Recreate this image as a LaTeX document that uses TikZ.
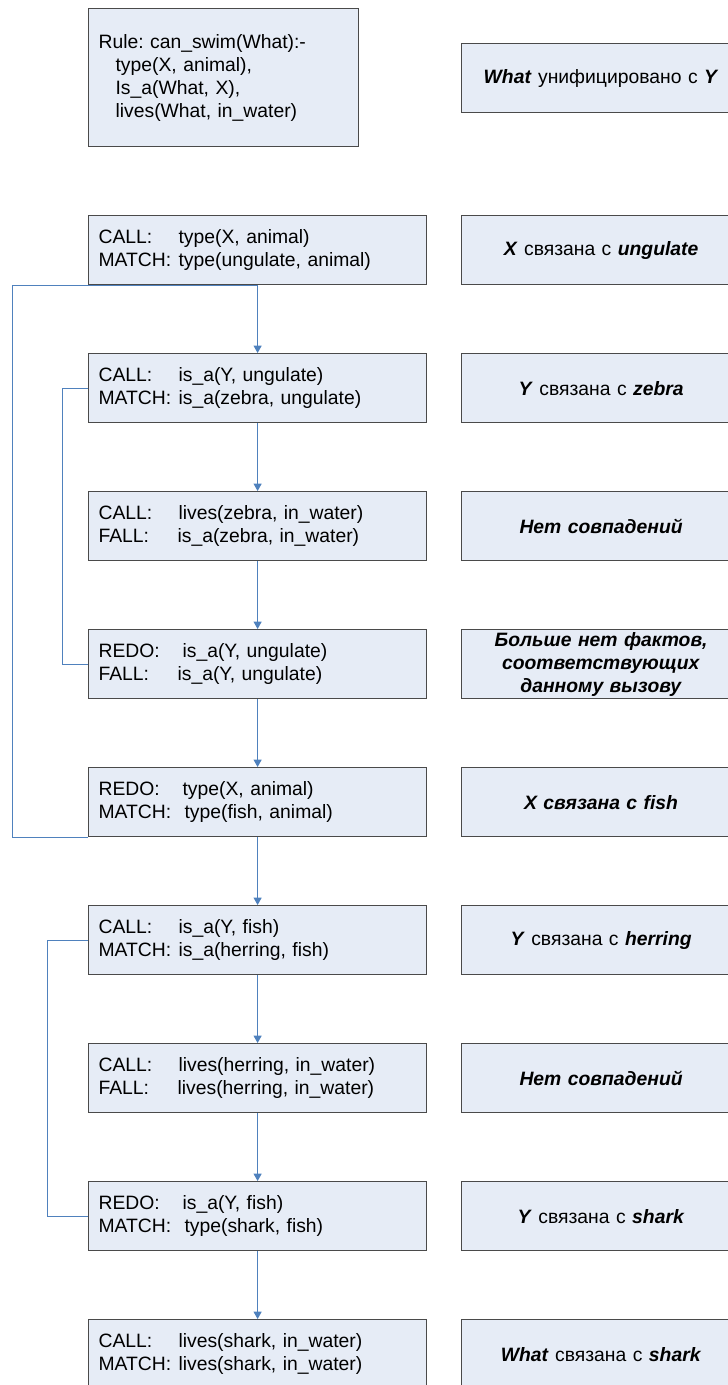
\documentclass[tikz,border=0pt]{standalone}
\usepackage{fontspec}
\setmainfont{Liberation Sans}
\usetikzlibrary{arrows.meta}
\definecolor{boxfill}{HTML}{E6ECF6}
\definecolor{boxline}{HTML}{4A4A4A}
\definecolor{connblue}{HTML}{4F81BD}
\newcommand\bi[1]{\textbf{\textit{#1}}}
\newcommand\lb[2]{\makebox[#1][l]{#2}}
\frenchspacing
\tikzset{
  lbox/.style={draw=boxline, fill=boxfill, line width=0.9pt, rectangle, anchor=north west,
    minimum height=51.75pt, text width=238.5pt, inner xsep=7.5pt, inner ysep=0pt, align=left},
  rbox/.style={draw=boxline, fill=boxfill, line width=0.9pt, rectangle, anchor=north west,
    minimum height=51.75pt, text width=194.25pt, inner xsep=7.5pt, inner ysep=0pt, align=center},
  conn/.style={draw=connblue, line width=0.75pt},
  arr/.style={conn, -{Triangle[width=6pt,length=5.5pt]}}
}
\begin{document}
\begin{tikzpicture}[x=0.75pt,y=-0.75pt,font=\fontsize{14.5pt}{17.25pt}\selectfont]
\path[use as bounding box] (0,0) rectangle (728,1385);
\clip (0,0) rectangle (728,1385);
% top
\node[lbox, text width=187.5pt, minimum height=103.5pt] (rule) at (88,8)
  {Rule: can\_swim(What):-\\
   \hspace*{12.75pt}type(X, animal),\\
   \hspace*{12.75pt}Is\_a(What, X),\\
   \hspace*{12.75pt}lives(What, in\_water)};
\node[rbox] (rule r) at (461,43) {\bi{What} унифицировано с \bi{Y}};
% rows
\node[lbox] (r1) at (88,215) {\lb{60pt}{CALL:}type(X, animal)\\\lb{60pt}{MATCH:}type(ungulate, animal)};
\node[rbox] (q1) at (461,215) {\bi{X} связана с \bi{ungulate}};
\node[lbox] (r2) at (88,353) {\lb{60pt}{CALL:}is\_a(Y, ungulate)\\\lb{60pt}{MATCH:}is\_a(zebra, ungulate)};
\node[rbox] (q2) at (461,353) {\bi{Y} связана с \bi{zebra}};
\node[lbox] (r3) at (88,491) {\lb{60pt}{CALL:}lives(zebra, in\_water)\\\lb{59.25pt}{FALL:}is\_a(zebra, in\_water)};
\node[rbox] (q3) at (461,491) {\bi{Нет совпадений}};
\node[lbox] (r4) at (88,629) {\lb{63pt}{REDO:}is\_a(Y, ungulate)\\\lb{59.25pt}{FALL:}is\_a(Y, ungulate)};
\node[rbox] (q4) at (461,629) {\bi{Больше нет фактов,}\\\bi{соответствующих}\\\bi{данному вызову}};
\node[lbox] (r5) at (88,767) {\lb{63pt}{REDO:}type(X, animal)\\\lb{64.5pt}{MATCH:}type(fish, animal)};
\node[rbox] (q5) at (461,767) {\bi{X связана с fish}};
\node[lbox] (r6) at (88,905) {\lb{60pt}{CALL:}is\_a(Y, fish)\\\lb{60pt}{MATCH:}is\_a(herring, fish)};
\node[rbox] (q6) at (461,905) {\bi{Y} связана с \bi{herring}};
\node[lbox] (r7) at (88,1043) {\lb{60pt}{CALL:}lives(herring, in\_water)\\\lb{59.25pt}{FALL:}lives(herring, in\_water)};
\node[rbox] (q7) at (461,1043) {\bi{Нет совпадений}};
\node[lbox] (r8) at (88,1181) {\lb{63pt}{REDO:}is\_a(Y, fish)\\\lb{64.5pt}{MATCH:}type(shark, fish)};
\node[rbox] (q8) at (461,1181) {\bi{Y} связана с \bi{shark}};
\node[lbox] (r9) at (88,1319) {\lb{60pt}{CALL:}lives(shark, in\_water)\\\lb{60pt}{MATCH:}lives(shark, in\_water)};
\node[rbox] (q9) at (461,1319) {\bi{What} связана с \bi{shark}};
% arrows
\foreach \a/\b in {r1/r2,r2/r3,r3/r4,r4/r5,r5/r6,r6/r7,r7/r8,r8/r9}
  \draw[arr] (\a.south) -- (\b.north);
% loops
\draw[conn] (r5.south west) -- ++(-76,0) |- (r1.south);
\draw[conn] (r2.west) -- ++(-26,0) |- (r4.west);
\draw[conn] (r6.west) -- ++(-41,0) |- (r8.west);
\end{tikzpicture}
\end{document}
